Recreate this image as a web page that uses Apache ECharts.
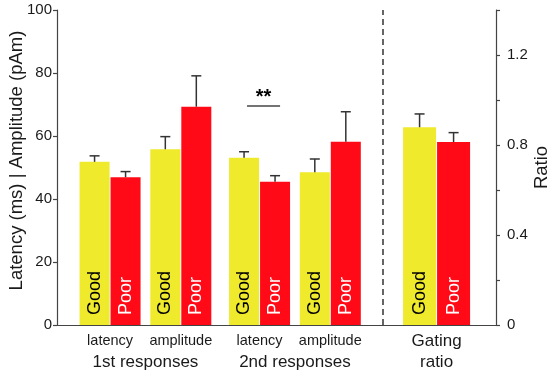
<!DOCTYPE html>
<html>
<head>
<meta charset="utf-8">
<script src="https://cdn.jsdelivr.net/npm/echarts@6/dist/echarts.min.js"></script>
<style>html,body{margin:0;padding:0;background:#fff}#c{width:550px;height:374px}</style>
</head>
<body>
<div id="c"></div>
<script>
// ---- data ----
const groupLabels = ['latency', 'amplitude', 'latency', 'amplitude'];
const blockLabels = ['1st responses', '2nd responses'];
const seriesNames = ['Good', 'Poor'];
const goodMean = [51.8, 55.8, 53.1, 48.5];
const goodErr  = [1.9, 4.0, 1.9, 4.2];
const poorMean = [46.9, 69.3, 45.5, 58.2];
const poorErr  = [1.8, 9.8, 1.9, 9.5];
const gatingLabel = ['Gating', 'ratio'];
const gatingGood = [0.879]; const gatingGoodErr = [0.059];
const gatingPoor = [0.813]; const gatingPoorErr = [0.042];
const sigLevel = 69.5; const sigText = '**';
const leftTicks = [0, 20, 40, 60, 80, 100];
const rightTicks = [0, 0.4, 0.8, 1.2];

// ---- layout (group positions on a hidden value axis) ----
const BLOCK_SHIFT = 0.113, GATING_SHIFT = 1.502;
const pos = groupLabels.map((_, i) => i + (i >= 2 ? BLOCK_SHIFT : 0));
const gatingPos = pos[3] + GATING_SHIFT;
const blockPos = [(pos[0] + pos[1]) / 2, (pos[2] + pos[3]) / 2];
const dividerPos = (pos[3] + gatingPos) / 2;
const XMIN = -0.75, XMAX = 5.455;

const YELLOW = '#EFEA2C', RED = '#FF0A16', AX = '#444', TXT = '#1a1a1a';
const FONT = 'Liberation Sans, Arial, sans-serif';
const LABEL_COL = { Good: '#000', Poor: '#fff' };

// bar + label + error bar drawn through the axes' coordinate mapping
function barRender(barW, gap) {
  return function (params, api) {
    const x0 = api.value(0), m = api.value(1), e = api.value(2), side = api.value(3);
    const name = seriesNames[side > 0 ? 1 : 0];
    const base = api.coord([x0, 0]), top = api.coord([x0, m]), et = api.coord([x0, m + e]);
    const cx = base[0] + side * (barW / 2 + gap / 2);
    const st = { stroke: '#333', lineWidth: 1.5 };
    return { type: 'group', children: [
      { type: 'rect', shape: { x: cx - barW / 2, y: top[1], width: barW, height: base[1] - top[1] },
        style: { fill: side > 0 ? RED : YELLOW } },
      { type: 'line', shape: { x1: cx, y1: top[1], x2: cx, y2: et[1] }, style: st },
      { type: 'line', shape: { x1: cx - 5, y1: et[1], x2: cx + 5, y2: et[1] }, style: st },
      { type: 'text', x: cx, y: base[1] - 10, rotation: Math.PI / 2,
        style: { text: name, fontSize: 18, fontFamily: FONT, fill: LABEL_COL[name],
                 align: 'left', verticalAlign: 'middle' } }
    ]};
  };
}

const xLabelMap = {};
pos.forEach((p, i) => xLabelMap[p.toFixed(4)] = '{s|' + groupLabels[i] + '}');
xLabelMap[gatingPos.toFixed(4)] = '{b|' + gatingLabel[0] + '}';
const x2LabelMap = {};
blockPos.forEach((p, i) => x2LabelMap[p.toFixed(4)] = blockLabels[i]);
x2LabelMap[gatingPos.toFixed(4)] = gatingLabel[1];

const option = {
  animation: false,
  grid: { left: 57, right: 54, top: 10, bottom: 49, containLabel: false, outerBoundsMode: 'none' },
  xAxis: [
    { type: 'value', min: XMIN, max: XMAX, position: 'bottom',
      splitLine: { show: false },
      axisLine: { show: true, onZero: false, lineStyle: { color: AX, width: 1.2 } },
      axisTick: { show: false },
      axisLabel: { show: true, customValues: pos.concat([gatingPos]), margin: 8,
        formatter: v => xLabelMap[v.toFixed(4)] || '',
        rich: { s: { fontSize: 14.5, color: TXT, fontFamily: FONT },
                b: { fontSize: 17, color: TXT, fontFamily: FONT } } } },
    { type: 'value', min: XMIN, max: XMAX, position: 'bottom',
      splitLine: { show: false },
      axisLine: { show: false, onZero: false }, axisTick: { show: false },
      axisLabel: { show: true, customValues: blockPos.concat([gatingPos]), margin: 29,
        formatter: v => x2LabelMap[v.toFixed(4)] || '',
        fontSize: 17, color: TXT, fontFamily: FONT } }
  ],
  yAxis: [
    { type: 'value', min: 0, max: 100, interval: 20, position: 'left',
      splitLine: { show: false },
      axisLine: { show: true, onZero: false, lineStyle: { color: AX, width: 1.2 } },
      axisTick: { show: true, length: 4, lineStyle: { color: AX, width: 1.2 } },
      axisLabel: { margin: 5, fontSize: 15, color: TXT, fontFamily: FONT,
        formatter: v => leftTicks.includes(v) ? String(v) : '' },
      name: 'Latency (ms) | Amplitude (pAm)', nameLocation: 'middle', nameRotate: 90, nameGap: 31,
      nameMoveOverlap: false,
      nameTextStyle: { fontSize: 18.5, color: TXT, fontFamily: FONT, padding: [0, 0, 0, 14] } },
    { type: 'value', min: 0, max: 1.4, interval: 0.2, position: 'right',
      splitLine: { show: false },
      axisLine: { show: true, onZero: false, lineStyle: { color: AX, width: 1.2 } },
      axisTick: { show: true, length: 4, lineStyle: { color: AX, width: 1.2 } },
      axisLabel: { margin: 11, fontSize: 15, color: TXT, fontFamily: FONT,
        formatter: v => { const r = rightTicks.find(t => Math.abs(t - v) < 1e-6); return r === undefined ? '' : String(r); } },
      name: 'Ratio', nameLocation: 'middle', nameRotate: 90, nameGap: 36,
      nameMoveOverlap: false,
      nameTextStyle: { fontSize: 18.5, color: TXT, fontFamily: FONT } }
  ],
  series: [
    { name: 'Responses', type: 'custom', xAxisIndex: 0, yAxisIndex: 0, renderItem: barRender(30, 1),
      data: pos.map((p, i) => [p, goodMean[i], goodErr[i], -1])
        .concat(pos.map((p, i) => [p, poorMean[i], poorErr[i], 1])),
      markLine: { silent: true, symbol: 'none', animation: false,
        lineStyle: { color: '#333', type: [6, 4], width: 1.5 }, label: { show: false },
        data: [{ xAxis: dividerPos }] } },
    { name: 'Ratio', type: 'custom', xAxisIndex: 1, yAxisIndex: 1, renderItem: barRender(33, 1),
      data: [[gatingPos, gatingGood[0], gatingGoodErr[0], -1], [gatingPos, gatingPoor[0], gatingPoorErr[0], 1]] },
    { name: 'Sig', type: 'line', xAxisIndex: 0, yAxisIndex: 0, data: [], symbol: 'none',
      markLine: { silent: true, symbol: 'none', animation: false,
        lineStyle: { color: '#444', type: 'solid', width: 1.5 },
        label: { show: true, formatter: sigText, position: 'insideMiddleTop', distance: -1,
          fontSize: 20, fontWeight: 'bold', color: '#000', fontFamily: FONT },
        data: [[{ coord: [pos[2] - 0.177, sigLevel] }, { coord: [pos[2] + 0.29, sigLevel] }]] } }
  ]
};
echarts.init(document.getElementById('c'), null, { renderer: 'canvas' }).setOption(option);
</script>
</body>
</html>
